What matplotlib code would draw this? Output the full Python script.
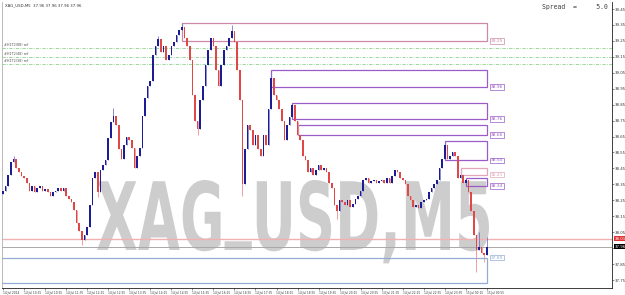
import numpy as np
import pandas as pd
import matplotlib
matplotlib.use("Agg")
import matplotlib.pyplot as plt
from matplotlib.textpath import TextPath
from matplotlib.path import Path
from matplotlib.patches import PathPatch, Rectangle
from matplotlib.font_manager import FontProperties
from matplotlib.transforms import Affine2D, blended_transform_factory

# XAG/USD M5 closes
closes = [38.31, 38.34, 38.41, 38.49, 38.51, 38.45, 38.43, 38.40, 38.39, 38.36,
          38.31, 38.34, 38.30, 38.33, 38.34, 38.31, 38.32, 38.30, 38.28, 38.30,
          38.31, 38.33, 38.31, 38.33, 38.28, 38.26, 38.24, 38.19, 38.11, 38.06,
          38.00, 38.03, 38.08, 38.22, 38.39, 38.43, 38.30, 38.44, 38.47, 38.50,
          38.64, 38.74, 38.78, 38.72, 38.57, 38.51, 38.60, 38.65, 38.63, 38.58,
          38.45, 38.53, 38.58, 38.78, 38.89, 38.97, 39.00, 39.16, 39.22, 39.26,
          39.18, 39.22, 39.13, 39.16, 39.22, 39.24, 39.29, 39.32, 39.34, 39.27,
          39.22, 39.13, 38.91, 38.75, 38.70, 38.88, 38.97, 39.10, 39.19, 39.27,
          39.22, 39.07, 38.97, 39.10, 39.19, 39.22, 39.27, 39.31, 39.24, 39.07,
          38.88, 38.35, 38.57, 38.72, 38.69, 38.60, 38.66, 38.57, 38.53, 38.66,
          38.60, 38.82, 39.02, 38.91, 38.88, 38.82, 38.75, 38.63, 38.72, 38.77,
          38.85, 38.75, 38.66, 38.63, 38.53, 38.50, 38.43, 38.45, 38.41, 38.44,
          38.47, 38.44, 38.45, 38.43, 38.36, 38.33, 38.22, 38.18, 38.25, 38.24,
          38.22, 38.25, 38.21, 38.23, 38.26, 38.28, 38.31, 38.38, 38.39, 38.36,
          38.37, 38.38, 38.36, 38.37, 38.38, 38.36, 38.39, 38.36, 38.40, 38.44,
          38.43, 38.39, 38.38, 38.35, 38.28, 38.25, 38.21, 38.22, 38.20, 38.24,
          38.25, 38.26, 38.30, 38.33, 38.35, 38.38, 38.45, 38.51, 38.60, 38.51,
          38.53, 38.55, 38.53, 38.39, 38.41, 38.36, 38.38, 38.30, 38.18, 38.03,
          37.94, 37.96, 37.92, 37.91, 37.96]
first_open = 38.29
# wicks that stick out past the bodies
high_wicks = {4: 38.53, 42: 38.83, 59: 39.28, 68: 39.36, 87: 39.35, 102: 39.04,
              168: 38.62, 181: 38.05, 184: 38.02}
low_wicks = {30: 37.97, 36: 38.27, 74: 38.66, 91: 38.28, 127: 38.13,
             180: 37.80, 183: 37.86}

# supply / demand zones
zone_start = [68, 102, 110, 112, 168, 174, 176, -5]
zone_top = [39.36, 39.07, 38.86, 38.72, 38.62, 38.45, 38.39, 37.89]
zone_bottom = [39.25, 38.96, 38.76, 38.66, 38.50, 38.41, 38.34, 37.73]
zone_tag = [39.25, 38.96, 38.76, 38.66, 38.50, 38.41, 38.34, 37.89]
zone_end = 184

ref_levels = [39.205, 39.15, 39.105]
ref_names = ["#H1T2(88) ref", "#H1T2(48) ref", "#H1T2(38) ref"]
alert_level = 38.01
bid = 37.96
spread = 5.0

start_time = "2014-07-14 09:35"
label_every = 8
y_ticks = np.round(np.arange(37.75, 39.46, 0.1), 2)

n = len(closes)
x = np.arange(n)
c = np.array(closes)
o = np.concatenate([[first_open], c[:-1]])
hi = np.maximum(o, c)
lo = np.minimum(o, c)
for k, v in high_wicks.items():
    hi[k] = v
for k, v in low_wicks.items():
    lo[k] = v
times = pd.date_range(start_time, periods=n, freq="5min")

fig = plt.figure(figsize=(6.25, 2.95), dpi=100)
ax = fig.add_axes([2 / 625, 7 / 295, 610 / 625, 286 / 295])
ax.set_xlim(-0.4, 231.6)
ax.set_ylim(37.70, 39.494)

# watermark, underscore lifted onto the baseline like the terminal draws it
fp = FontProperties(family="DejaVu Sans", weight="bold")
tp = TextPath((0, 0), "XAG_USD,M5", size=1, prop=fp)
u_right = TextPath((0, 0), "XAG_", size=1, prop=fp).get_extents().x1 + 0.01
verts = tp.vertices.copy()
mask = (verts[:, 1] < -0.05) & (verts[:, 0] < u_right)
verts[mask, 1] -= verts[mask, 1].min()
tp = Path(verts, tp.codes)
cap = TextPath((0, 0), "XAGUSDM5", size=1, prop=fp).get_extents()
ext = tp.get_extents()
sx = 392 / ext.width
sy = 70 / cap.y1
T = (Affine2D().translate(-ext.x0, 0).scale(sx, sy).translate(97, 295 - 250)
     + Affine2D().scale(1 / 625, 1 / 295) + fig.transFigure)
ax.add_patch(PathPatch(tp, transform=T, facecolor="#cdcdcd", edgecolor="none",
                       zorder=0.5, clip_on=False))

# horizontal reference lines
for lv, nm in zip(ref_levels, ref_names):
    ax.axhline(lv, color="#8fd08f", lw=0.6, ls=(0, (4, 1.5, 1, 1.5)), zorder=1)
    ax.text(0.3, lv + 0.004, nm, fontsize=2.4, color="#555555", va="bottom")
ax.axhline(alert_level, color="#f2b0b0", lw=1.0, zorder=1)
ax.axhline(bid, color="#a8a8a8", lw=0.7, zorder=1)

# zones
purple = "#9a5cc8"
zone_colors = ["#cc8aa8", purple, purple, purple, purple, "#e2a6ba", purple, "#93acd6"]
for s, t, b, tag, col in zip(zone_start, zone_top, zone_bottom, zone_tag, zone_colors):
    ax.add_patch(Rectangle((s, b), zone_end - s, t - b, fill=False,
                           edgecolor=col, lw=0.9, zorder=1.5))
    ax.text(zone_end + 1.4, tag, f"{tag:.2f}", fontsize=3.2, color=col,
            va="center", ha="left",
            bbox=dict(boxstyle="square,pad=0.15", fc="white", ec=col, lw=0.5))

# candles
up = c >= o
col_body = np.where(up, "#1c1c96", "#e04848")
col_wick = np.where(up, "#7878c4", "#ee9090")
ax.vlines(x, lo, hi, colors=col_wick, lw=0.6, zorder=2)
ax.bar(x, np.maximum(np.abs(c - o), 0.005), bottom=np.minimum(o, c), width=0.62,
       color=col_body, zorder=3, linewidth=0)

# axes styling
ax.spines["top"].set_visible(False)
ax.spines["left"].set_color("#b0b0b0")
ax.spines["right"].set_color("#202020")
ax.spines["bottom"].set_color("#202020")
for sp in ax.spines.values():
    sp.set_linewidth(0.6)
ax.yaxis.tick_right()
ax.set_yticks(y_ticks)
# the bid tag covers the 37.95 label
ax.set_yticklabels(["" if abs(v - bid) < 0.02 else f"{v:.2f}" for v in y_ticks])
ticks = x[::label_every]
ax.set_xticks(ticks)
labels = [times[0].strftime("%d %b %Y")] + [t.strftime("%d %b %H:%M") for t in times[ticks][1:]]
ax.set_xticklabels(labels, ha="left")
ax.tick_params(axis="y", labelsize=2.8, length=1.5, width=0.4, pad=0.8, colors="#333333")
ax.tick_params(axis="x", labelsize=2.1, length=1.5, width=0.4, pad=0.8, colors="#333333")

# price tags on the right axis
bt = blended_transform_factory(ax.transAxes, ax.transData)
ax.text(1.004, alert_level, f"{alert_level:.2f}", transform=bt, fontsize=2.8,
        color="white", va="center", ha="left",
        bbox=dict(boxstyle="square,pad=0.2", fc="#e03434", ec="none"))
ax.text(1.004, bid, f"{bid:.2f}", transform=bt, fontsize=2.8, color="white",
        va="center", ha="left", bbox=dict(boxstyle="square,pad=0.2", fc="black", ec="none"))

# header texts
fig.text(5 / 625, 1 - 5 / 295, f"XAG_USD,M5  {bid:.2f} {bid:.2f} {bid:.2f} {bid:.2f}",
         fontsize=2.8, color="#333333", va="center")
fig.text(542 / 625, 1 - 7 / 295, f"Spread  =     {spread:.1f}", fontsize=4.7,
         family="DejaVu Sans Mono", color="#444444", va="center")

fig.savefig("out.png", dpi=100, facecolor="white")
